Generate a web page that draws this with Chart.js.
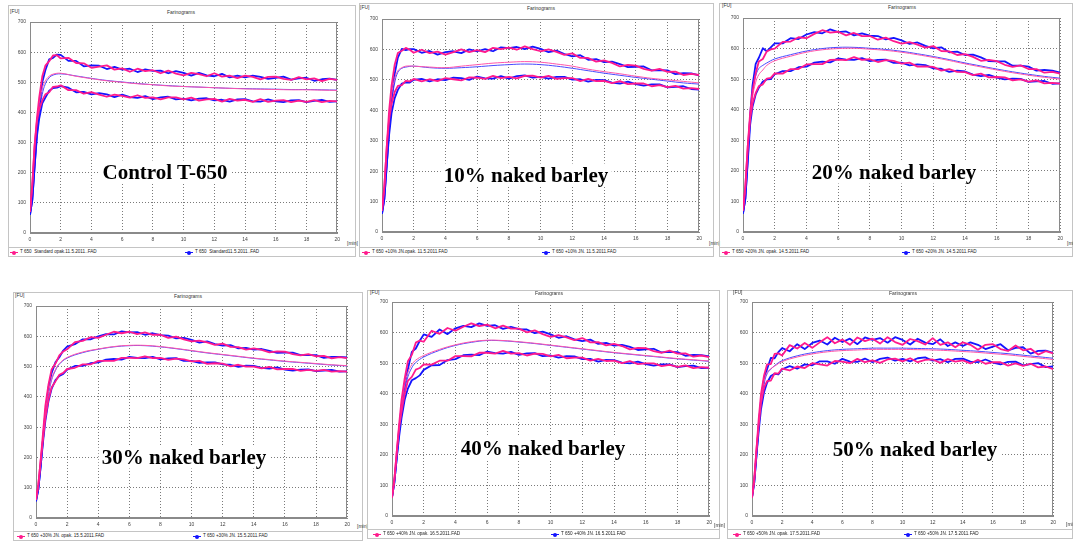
<!DOCTYPE html>
<html><head><meta charset="utf-8">
<script src="https://cdn.jsdelivr.net/npm/chart.js@4.4.0/dist/chart.umd.min.js"></script>
<style>
html,body{margin:0;padding:0;background:#fff;}
body{width:1073px;height:542px;position:relative;overflow:hidden;font-family:"Liberation Sans",Arial,sans-serif;}
.frame{position:absolute;border:1px solid #c4c4c4;box-sizing:border-box;}
.hl{position:absolute;height:0;border-top:1px solid #c4c4c4;}
.t{position:absolute;line-height:1;white-space:pre;color:#333;}
.sm{font-size:5px;}
.lgt{font-size:4.6px;color:#222;}
.big{position:absolute;font-family:"Liberation Serif","Times New Roman",serif;font-weight:bold;font-size:21px;line-height:1;color:#000;background:#fff;padding:1px 3px;transform:translate(-50%,-50%);white-space:nowrap;}
.mk{position:absolute;width:8px;height:1px;}
.mk i{position:absolute;left:2px;top:-1.5px;width:4px;height:4px;border-radius:50%;}
.wrap{position:absolute;}
</style></head><body>
<script>
// ---- shared axes data ----
const TIME_ENV = [0,0.15,0.3,0.45,0.6,0.8,1,1.25,1.5,1.75, 2,2.5,3,3.5,4,4.5,5,5.5,6,6.5, 7,7.5,8,8.5,9,9.5,10,10.5,11,11.5, 12,12.5,13,13.5,14,14.5,15,15.5,16,16.5, 17,17.5,18,18.5,19,19.5,20];
const TIME_MID = [0,0.15,0.3,0.45,0.6,0.8,1,1.25,1.5,2, 3,4,5,6,7,8,9,10,11,12, 13,14,15,16,17,18,19,20];
const X_TICKS = [0,2,4,6,8,10,12,14,16,18,20];
const Y_TICKS = [0,100,200,300,400,500,600,700];

const PANEL_LABELS = ["Control T-650","10% naked barley","20% naked barley","30% naked barley","40% naked barley","50% naked barley"];
const LEGEND_PINK = ["T 650  Standard opak.11.5.2011..FAD","T 650 +10% JN.opak. 11.5.2011.FAD","T 650 +20% JN. opak. 14.5.2011.FAD","T 650 +30% JN. opak. 15.5.2011.FAD","T 650 +40% JN. opak. 16.5.2011.FAD","T 650 +50% JN. opak. 17.5.2011.FAD"];
const LEGEND_BLUE = ["T 650  Standard11.5.2011..FAD","T 650 +10% JN. 11.5.2011.FAD","T 650 +20% JN. 14.5.2011.FAD","T 650 +30% JN. 15.5.2011.FAD","T 650 +40% JN. 16.5.2011.FAD","T 650 +50% JN. 17.5.2011.FAD"];

// ---- Control T-650 ----
const c1UpPink = [70,160,290,380,450,520, 555,570,589,590,579,581,564,563,548,552, 556,542,546,535,545,537,540,530,539,529, 523,531,527,520,530,519,522,514,522,518, 510,518,519,511,508,517,510,513,504,511, 508];
const c1UpBlue = [60,110,220,330,410,500, 540,576,581,592,591,571,571,553,556,555, 544,551,542,545,534,543,538,539,530,537, 531,522,531,523,520,528,516,522,516,522, 518,511,515,519,509,513,515,505,510,512, 508];
const c1MidPink = [70,160,290,370,430,480,505,520,527,530, 520,512,505,500,495,492,488,486,484,482, 480,478,477,476,475,475,474,473];
const c1MidBlue = [60,110,220,320,400,460,495,515,524,528, 521,513,506,501,496,492,489,486,484,482, 480,479,478,477,476,476,475,474];
const c1LowPink = [70,160,290,370,410,440, 460,467,485,486,490,474,474,462,467,459, 452,459,455,449,457,448,450,443,450,450, 443,449,439,443,445,436,445,439,442,435, 444,435,439,441,434,439,435,441,434,438, 437];
const c1LowBlue = [60,110,220,320,380,430, 449,472,481,482,487,482,467,468,460,464, 460,451,459,451,448,454,444,450,452,443, 446,440,446,447,440,442,436,443,444,437, 436,443,437,434,440,441,434,438,442,435, 437];

// ---- 10% naked barley ----
const c2UpPink = [70,150,280,400,480,550, 588,596,605,599,589,599,588,593,583,591, 600,591,598,591,605,601,606,599,610,601, 594,600,592,582,587,572,572,560,564,556, 544,549,547,536,530,536,526,527,516,520, 516];
const c2UpBlue = [60,110,220,340,440,520, 573,602,598,601,601,589,595,583,591,594, 588,600,594,601,594,607,604,608,601,609, 602,591,596,585,577,581,566,568,558,560, 552,542,543,544,531,532,531,519,522,521, 515];
const c2MidPink = [70,150,280,380,450,505,530,540,545,545, 542,540,545,550,555,558,560,558,552,545, 535,527,520,512,505,500,495,490];
const c2MidBlue = [60,110,220,330,420,490,525,538,542,545, 540,538,540,543,547,550,552,550,545,538, 530,522,515,508,502,496,490,486];
const c2LowPink = [70,150,280,370,420,460, 480,483,497,495,503,495,502,496,506,502, 498,508,507,503,513,506,510,505,513,514, 507,513,503,506,506,496,503,496,497,489, 496,486,488,488,479,483,476,480,471,473, 470];
const c2LowBlue = [60,110,220,320,390,440, 467,488,492,491,500,503,495,502,499,507, 506,500,511,505,504,512,504,512,515,507, 510,504,510,510,501,502,494,500,499,491, 488,494,486,481,485,485,475,477,479,470, 468];

// ---- 20% naked barley ----
const c3UpPink = [70,150,280,390,460,520, 558,566,591,597,600,622,623,637,634,648, 660,652,655,643,651,641,641,629,636,624, 616,621,613,603,608,592,591,579,582,573, 560,563,559,547,540,545,533,533,521,524, 518];
const c3UpBlue = [60,110,240,380,480,550, 570,601,591,604,617,617,634,631,646,654, 650,663,654,656,643,650,642,641,630,635, 627,615,620,609,601,604,588,590,579,580, 571,559,558,558,544,544,541,528,530,528, 521];
const c3MidPink = [70,150,280,380,440,490,515,530,545,560, 575,588,596,600,601,598,594,588,580,571, 561,550,540,530,521,513,506,500];
const c3MidBlue = [60,110,240,370,460,510,535,545,553,566, 580,592,600,604,604,601,597,591,583,574, 564,553,543,533,524,516,509,503];
const c3LowPink = [70,150,280,370,420,455, 477,483,502,504,519,518,533,533,548,549, 549,563,564,562,572,563,565,556,562,560, 551,554,541,542,540,528,533,524,523,513, 518,506,507,506,496,499,492,496,486,488, 485];
const c3LowBlue = [60,110,230,350,410,450, 472,492,499,500,516,526,526,539,541,554, 557,555,568,564,563,569,559,563,564,553, 554,545,548,546,535,534,524,528,525,515, 510,514,505,499,502,501,491,493,494,485, 486];

// ---- 30% naked barley ----
const c4UpPink = [60,110,190,280,370,440, 490,510,537,550,557,581,585,597,595,605, 615,610,615,607,613,605,605,595,599,590, 583,586,580,572,576,565,564,556,560,555, 547,550,549,541,537,541,534,535,527,531, 528];
const c4UpBlue = [55,95,170,260,350,430, 478,514,531,553,566,574,590,590,600,607, 606,616,613,614,605,610,604,602,593,595, 588,579,583,574,569,571,560,562,556,558, 552,545,546,546,538,538,538,529,532,532, 530];
const c4MidPink = [60,110,190,270,350,415,460,490,510,530, 548,558,566,570,570,566,560,553,546,540, 534,528,523,518,514,510,506,503];
const c4MidBlue = [55,95,170,255,335,405,455,487,508,528, 546,557,565,569,569,565,559,552,545,539, 533,527,522,517,513,509,505,502];
const c4LowPink = [60,110,190,260,330,390, 431,451,473,479,492,496,507,507,519,519, 519,529,529,528,534,528,529,522,526,524, 517,519,509,511,510,501,506,500,500,494, 499,491,492,492,486,489,486,489,483,485, 483];
const c4LowBlue = [55,95,170,250,320,385, 426,455,469,476,490,502,502,511,514,523, 525,523,532,529,528,532,524,527,528,519, 519,512,514,514,507,506,499,503,502,496, 493,497,490,487,490,491,485,487,489,483, 484];

// ---- 40% naked barley ----
const c5UpPink = [60,120,210,300,380,450, 506,527,567,574,570,606,596,615,606,619, 630,621,626,614,623,613,613,601,607,595, 586,592,584,575,582,568,569,558,563,556, 545,550,549,539,534,541,531,532,521,525, 520];
const c5UpBlue = [60,110,190,280,360,430, 480,537,548,573,594,586,610,595,614,622, 618,630,622,624,612,619,611,610,598,603, 594,583,588,578,572,577,563,566,557,560, 553,543,545,547,535,537,536,524,527,526, 522];
const c5MidPink = [60,120,210,290,360,430,470,495,510,525, 545,560,570,575,574,570,565,559,553,547, 541,535,530,525,520,515,511,507];
const c5MidBlue = [60,110,190,270,340,410,455,485,502,520, 542,558,568,574,573,569,564,558,552,546, 540,534,529,524,519,514,510,506];
const c5LowPink = [60,120,210,290,340,400, 442,455,479,484,496,495,508,508,523,523, 522,534,534,531,540,531,533,525,531,530, 522,527,516,518,518,508,514,507,508,500, 507,497,499,499,490,494,488,493,484,487, 485];
const c5LowBlue = [60,110,190,260,320,380, 417,444,451,460,478,493,494,510,513,526, 528,526,538,533,531,537,527,532,533,523, 525,518,523,522,513,514,505,511,510,502, 499,505,497,492,496,496,487,490,492,484, 485];

// ---- 50% naked barley ----
const c6UpPink = [60,120,220,320,400,460, 496,497,530,532,525,559,548,566,550,568, 585,565,577,560,584,572,580,564,585,569, 560,579,572,561,582,560,568,552,568,560, 544,560,562,546,540,558,542,547,528,539, 532];
const c6UpBlue = [60,110,200,300,380,450, 480,517,516,536,549,539,562,546,566,574, 561,583,569,580,562,584,576,582,567,585, 576,561,580,567,562,578,556,568,556,568, 560,546,554,562,542,550,552,531,540,541, 534];
const c6MidPink = [60,120,220,310,380,440,470,482,490,505, 520,530,537,541,543,545,545,545,544,543, 541,538,535,531,527,522,517,512];
const c6MidBlue = [60,110,200,290,365,430,465,480,492,508, 524,534,541,545,547,549,549,549,548,547, 545,542,539,535,531,526,521,516];
const c6LowPink = [60,120,220,300,370,420, 441,443,467,466,482,476,489,484,500,496, 492,507,505,500,514,503,509,501,512,515, 506,516,503,511,512,501,513,505,509,499, 511,498,503,503,492,499,491,498,486,489, 480];
const c6LowBlue = [60,110,200,280,350,405, 436,458,465,463,480,490,482,496,493,506, 506,498,514,505,504,515,503,514,518,508, 514,506,516,519,508,513,503,514,515,505, 503,512,502,496,504,505,493,497,500,487, 489];

const PANEL_SERIES = [
  [c1UpPink,c1MidPink,c1LowPink,c1UpBlue,c1MidBlue,c1LowBlue],
  [c2UpPink,c2MidPink,c2LowPink,c2UpBlue,c2MidBlue,c2LowBlue],
  [c3UpPink,c3MidPink,c3LowPink,c3UpBlue,c3MidBlue,c3LowBlue],
  [c4UpPink,c4MidPink,c4LowPink,c4UpBlue,c4MidBlue,c4LowBlue],
  [c5UpPink,c5MidPink,c5LowPink,c5UpBlue,c5MidBlue,c5LowBlue],
  [c6UpPink,c6MidPink,c6LowPink,c6UpBlue,c6MidBlue,c6LowBlue]
];

// ---- layout (page pixels) ----
const LAYOUT = [
  {L:30,T:21,R:338,B:233, frame:[8,5,356,257], legTop:247, legY:252, lx1:10, lx2:185, fu:[10,12], title:[181,13], min:[347,244], big:[165,172]},
  {L:382,T:18,R:700,B:232, frame:[359,3,714,257], legTop:247, legY:252, lx1:362, lx2:542, fu:[360,8], title:[541,9], min:[709,244], big:[526,175]},
  {L:743,T:17,R:1061,B:232, frame:[719,3,1073,257], legTop:247, legY:252, lx1:722, lx2:902, fu:[722,6], title:[902,8], min:[1067,244], big:[894,172]},
  {L:36,T:305,R:348,B:518, frame:[13,292,363,541], legTop:531, legY:536, lx1:17, lx2:193, fu:[15,296], title:[188,297], min:[357,527], big:[184,457]},
  {L:392,T:301,R:710,B:516, frame:[367,290,720,539], legTop:529, legY:534, lx1:373, lx2:551, fu:[370,293], title:[549,294], min:[714,526], big:[543,448]},
  {L:752,T:301,R:1054,B:516, frame:[727,290,1073,539], legTop:529, legY:534, lx1:733, lx2:904, fu:[733,293], title:[903,294], min:[1066,525], big:[915,449]}
];

const PINK = '#ff1a8c', BLUE = '#1414ff';
const MID_PINK = '#ff55aa', MID_BLUE = '#4a4aff';

function el(tag, cls, css, txt){
  const e = document.createElement(tag);
  if(cls) e.className = cls;
  if(css) e.style.cssText = css;
  if(txt!=null) e.textContent = txt;
  document.body.appendChild(e);
  return e;
}

const framePlugin = {
  id:'frameBox',
  beforeDatasetsDraw(chart){
    const a = chart.chartArea, ctx = chart.ctx;
    ctx.save();
    ctx.strokeStyle = '#8a8a8a';
    ctx.lineWidth = 1;
    ctx.strokeRect(Math.round(a.left)+0.5, Math.round(a.top)+0.5, Math.round(a.right-a.left)-1, Math.round(a.bottom-a.top)-1);
    ctx.restore();
  }
};

LAYOUT.forEach((g, i) => {
  const f = g.frame;
  el('div','frame',`left:${f[0]}px;top:${f[1]}px;width:${f[2]-f[0]}px;height:${f[3]-f[1]}px;`);
  el('div','hl',`left:${f[0]}px;top:${g.legTop}px;width:${f[2]-f[0]}px;`);

  const W = g.R - g.L + 36, H = g.B - g.T + 18;
  const wrap = el('div','wrap',`left:${g.L-30}px;top:${g.T-6}px;width:${W}px;height:${H}px;`);
  const cv = document.createElement('canvas');
  cv.width = W; cv.height = H;
  wrap.appendChild(cv);

  const s = PANEL_SERIES[i];
  const env = (arr) => TIME_ENV.map((x,k)=>({x, y:arr[k]}));
  const mid = (arr) => TIME_MID.map((x,k)=>({x, y:arr[k]}));
  const dsEnv = (arr,col) => ({data:env(arr), borderColor:col, borderWidth:1.8, tension:0, pointRadius:0, fill:false, borderJoinStyle:'round'});
  const dsMid = (arr,col) => ({data:mid(arr), borderColor:col, borderWidth:1, tension:0.4, pointRadius:0, fill:false});

  const tickFont = {size:5, family:'"Liberation Sans", Arial, sans-serif'};
  new Chart(cv, {
    type:'line',
    data:{datasets:[
      dsEnv(s[0],PINK), dsMid(s[1],MID_PINK), dsEnv(s[2],PINK),
      dsEnv(s[3],BLUE), dsMid(s[4],MID_BLUE), dsEnv(s[5],BLUE)
    ]},
    options:{
      responsive:false, animation:false, devicePixelRatio:1,
      layout:{padding:{left:0,right:6,top:6,bottom:0}},
      plugins:{legend:{display:false}, tooltip:{enabled:false}, title:{display:false}},
      scales:{
        x:{type:'linear', min:0, max:20,
           afterBuildTicks:(sc)=>{sc.ticks = X_TICKS.map(v=>({value:v}));},
           ticks:{font:tickFont, color:'#444', padding:4, maxRotation:0, autoSkip:false},
           grid:{color:'#7a7a7a', lineWidth:1, drawTicks:false},
           border:{display:true, color:'#8a8a8a', dash:[1,2]},
           afterFit:(sc)=>{sc.height = 12;}},
        y:{type:'linear', min:0, max:700,
           afterBuildTicks:(sc)=>{sc.ticks = Y_TICKS.map(v=>({value:v}));},
           ticks:{font:tickFont, color:'#444', padding:4},
           grid:{color:'#7a7a7a', lineWidth:1, drawTicks:false},
           border:{display:true, color:'#8a8a8a', dash:[1,2]},
           afterFit:(sc)=>{sc.width = 30;}}
      }
    },
    plugins:[framePlugin]
  });

  el('span','t sm',`left:${g.fu[0]}px;top:${g.fu[1]-3}px;`,'[FU]');
  el('span','t sm',`left:${g.title[0]}px;top:${g.title[1]-3}px;transform:translateX(-50%);`,'Farinograms');
  el('span','t sm',`left:${g.min[0]}px;top:${g.min[1]-3}px;`,'[min]');

  const m1 = el('span','mk',`left:${g.lx1}px;top:${g.legY}px;background:${PINK};`);
  m1.innerHTML = `<i style="background:${PINK}"></i>`;
  el('span','t lgt',`left:${g.lx1+10}px;top:${g.legY-2.5}px;`, LEGEND_PINK[i]);
  const m2 = el('span','mk',`left:${g.lx2}px;top:${g.legY}px;background:${BLUE};`);
  m2.innerHTML = `<i style="background:${BLUE}"></i>`;
  el('span','t lgt',`left:${g.lx2+10}px;top:${g.legY-2.5}px;`, LEGEND_BLUE[i]);

  el('div','big',`left:${g.big[0]}px;top:${g.big[1]}px;`, PANEL_LABELS[i]);
});
</script>
</body></html>
